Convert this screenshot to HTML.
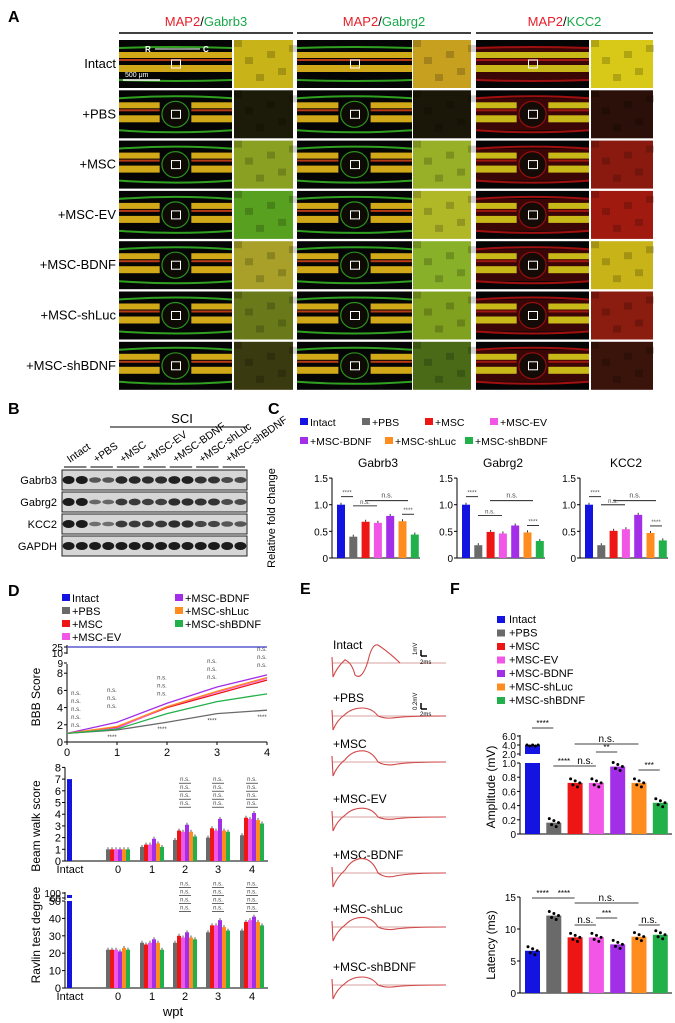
<!DOCTYPE html>
<html><head><meta charset="utf-8">
<style>
html,body{margin:0;padding:0;background:#fff;}
svg{display:block;font-family:"Liberation Sans",Arial,sans-serif;}
</style></head>
<body>
<svg id="fig" width="675" height="1023" viewBox="0 0 675 1023" xmlns="http://www.w3.org/2000/svg"></svg>
<script>
// ===== data arrays =====
const groups = ["Intact","+PBS","+MSC","+MSC-EV","+MSC-BDNF","+MSC-shLuc","+MSC-shBDNF"];
const groupColors = ["#1414e0","#6a6a6a","#ee1515","#f256e6","#a22ee8","#ff8c1e","#22b04a"];
// Panel C
const cGenes = ["Gabrb3","Gabrg2","KCC2"];
const cGabrb3 = [1.0,0.40,0.68,0.66,0.79,0.69,0.44];
const cGabrg2 = [1.0,0.24,0.49,0.46,0.61,0.48,0.32];
const cKCC2 = [1.0,0.24,0.51,0.54,0.81,0.47,0.33];
const cTicks = [0,0.5,1.0,1.5];
// Panel D BBB (weeks 0..4), series PBS..shBDNF
const weeks = [0,1,2,3,4];
const bbbPBS = [1,1.4,2.3,3.3,3.7];
const bbbMSC = [1,1.7,4.0,5.6,7.2];
const bbbEV = [1,1.6,4.1,5.8,7.4];
const bbbBDNF = [1,2.3,4.5,6.4,7.8];
const bbbShLuc = [1,1.8,4.1,5.9,7.5];
const bbbShBDNF = [1,1.5,3.3,4.7,5.6];
const bbbTicks = [0,2,4,6,8];
// Beam walk
const beamIntact = 7;
const beamPBS = [1,1.2,1.8,2.0,2.2];
const beamMSC = [1,1.4,2.6,2.8,3.7];
const beamEV = [1,1.4,2.5,2.6,3.6];
const beamBDNF = [1,1.9,3.1,3.6,4.1];
const beamShLuc = [1,1.5,2.5,2.6,3.5];
const beamShBDNF = [1,1.2,2.1,2.5,3.2];
const beamTicks = [0,1,2,3,4,5,6,7,8];
// Ravlin
const ravIntact = 52;
const ravPBS = [22,26,26,32,33];
const ravMSC = [22,25,30,36,38];
const ravEV = [22,26,29,36,39];
const ravBDNF = [21,28,32,39,41];
const ravShLuc = [23,26,29,35,38];
const ravShBDNF = [22,22,28,33,36];
const ravTicks = [0,10,20,30,40,50];
const xCats = ["Intact","0","1","2","3","4"];
// Panel F
const ampValues = [4.0,0.16,0.72,0.72,0.95,0.72,0.44];
const ampTicksLow = [0,0.2,0.4,0.6,0.8,1.0];
const ampTicksHigh = [2.0,4.0,6.0];
const latValues = [6.6,12.1,8.7,8.7,7.6,8.8,9.1];
const latTicks = [0,5,10,15];

// ===== helpers =====
const NS="http://www.w3.org/2000/svg";
const svg=document.getElementById('fig');
function add(parent, tag, attrs, name, text){
  const el=document.createElementNS(NS,tag);
  for(const k in attrs) el.setAttribute(k,attrs[k]);
  
  
  if(text!==undefined) el.textContent=text;
  parent.appendChild(el);
  return el;
}
function txt(x,y,s,size,opts,name){
  opts=opts||{};
  const a={x:x,y:y,'font-size':size,fill:opts.fill||'#000'};
  if(opts.anchor) a['text-anchor']=opts.anchor;
  if(opts.weight) a['font-weight']=opts.weight;
  if(opts.rot!==undefined) a.transform='rotate('+opts.rot+' '+x+' '+y+')';
  return add(svg,'text',a,name||'label',s);
}
function line(x1,y1,x2,y2,c,w,name){return add(svg,'line',{x1:x1,y1:y1,x2:x2,y2:y2,stroke:c||'#000','stroke-width':w||1},name||'axis-line');}
function rect(x,y,w,h,f,name){return add(svg,'rect',{x:x,y:y,width:w,height:h,fill:f},name||'rect');}

// ===== Panel A =====
txt(8,22,'A',16,{weight:'bold'},'panel-a-label');
const aCols=[{x:119,mw:113,zx:234,zw:59,g:'Gabrb3'},{x:297,mw:115,zx:413,zw:58,g:'Gabrg2'},{x:476,mw:113,zx:591,zw:62,g:'KCC2'}];
const zoomCols=[
 ['#c8b418','#1c1a08','#8aa022','#58a020','#a8a028','#6a7a1a','#3a3a10'],
 ['#c8a020','#1a1608','#98b028','#b0b828','#88b028','#80a020','#4a6a18'],
 ['#d8c818','#2a1008','#8a1a10','#a01a10','#c8b418','#8a1c10','#3a140a']];
aCols.forEach((c,ci)=>{
  const cx=(c.x+c.zx+c.zw)/2;
  const t=add(svg,'text',{x:cx,y:26,'font-size':13,'text-anchor':'middle'},'column-title-'+c.g.toLowerCase());
  add(t,'tspan',{fill:'#e61e2a'},'title-map2','MAP2');
  add(t,'tspan',{fill:'#000'},'title-slash','/');
  add(t,'tspan',{fill:'#18a84a'},'title-gene',c.g);
  line(c.x,33,c.zx+c.zw,33,'#000',1.5,'column-header-line');
  groups.forEach((g,ri)=>{
    const y=40+ri*50.3, h=48;
    rect(c.x,y,c.mw,h,'#050505','micrograph-main');
    const inj=ri>0;
    const outline=ci===2?'#a01010':'#30a020';
    const bandA=ci===2?'#c8b818':'#d0a818';
    const bandB=ci===2?'#a01810':'#b83a14';
    if(ci===2) rect(c.x,y+8,c.mw,32,'#3a0606','cord-body');
    add(svg,'path',{d:`M${c.x} ${y+8} Q${c.x+c.mw/2} ${y+(inj?4:6)} ${c.x+c.mw} ${y+8}`,stroke:outline,'stroke-width':2,fill:'none'},'cord-outline-top');
    add(svg,'path',{d:`M${c.x} ${y+40} Q${c.x+c.mw/2} ${y+(inj?44:42)} ${c.x+c.mw} ${y+40}`,stroke:outline,'stroke-width':2,fill:'none'},'cord-outline-bottom');
    [[12,6,bandA],[19,2,bandB],[25,7,bandA]].forEach(b=>{
      if(inj){
        rect(c.x,y+b[0],c.mw*0.36,b[1],b[2],'cord-band-left');
        rect(c.x+c.mw*0.64,y+b[0],c.mw*0.36,b[1],b[2],'cord-band-right');
      } else rect(c.x,y+b[0],c.mw,b[1],b[2],'cord-band');
    });
    if(inj){
      add(svg,'ellipse',{cx:c.x+c.mw/2,cy:y+24,rx:c.mw*0.12,ry:13,fill:'#100c06',stroke:outline,'stroke-width':1.2,opacity:0.9},'lesion-site');
    }
    add(svg,'rect',{x:c.x+c.mw*0.5-4,y:y+20,width:9,height:8,fill:'none',stroke:'#fff','stroke-width':1},'roi-box');
    rect(c.zx,y,c.zw,h,zoomCols[ci][ri],'micrograph-zoom');
    for(let k=0;k<6;k++){
      add(svg,'rect',{x:c.zx+(k*11)%c.zw,y:y+((k*17)%40),width:8,height:7,fill:'#000',opacity:0.18},'texture');
    }
    if(ci===0) txt(116,y+28,g,13,{anchor:'end'},'row-label');
  });
});
txt(145,52,'R',8,{fill:'#fff',weight:'bold'},'rostral-label');
line(155,49,200,49,'#fff',1,'rc-arrow');
txt(203,52,'C',8,{fill:'#fff',weight:'bold'},'caudal-label');
line(123,80,160,80,'#fff',1.5,'scale-bar');
txt(125,77,'500 μm',7,{fill:'#fff'},'scale-bar-label');

// ===== Panel B =====
txt(8,414,'B',16,{weight:'bold'},'panel-b-label');
txt(182,423,'SCI',13,{anchor:'middle'},'sci-label');
line(110,427,247,427,'#000',1,'sci-line');
const bx=62,bw=185,lane=bw/14;
groups.forEach((g,i)=>{
  const gx=bx+i*2*lane;
  line(gx+2,467,gx+2*lane-2,467,'#000',1,'lane-group-line');
  txt(gx+8,463,g,10.5,{rot:-35},'lane-label');
});
const blotRows=[['Gabrb3',470,[1,.5,.9,.85,.95,.8,.6]],['Gabrg2',492,[1,.35,.75,.7,.85,.8,.6]],['KCC2',514,[1,.3,.75,.75,.85,.65,.5]],['GAPDH',536,[1,1,1,1,1,1,1]]];
blotRows.forEach(r=>{
  rect(bx,r[1],bw,20,'#d6d6d6','blot-strip').setAttribute('stroke','#222');
  txt(57,r[1]+14,r[0],11,{anchor:'end'},'blot-row-label');
  for(let l=0;l<14;l++){
    const a=r[2][Math.floor(l/2)];
    add(svg,'ellipse',{cx:bx+lane*(l+0.5),cy:r[1]+10,rx:lane*0.45,ry:1.5+2.5*a,fill:'#111',opacity:0.35+0.6*a},'blot-band');
  }
});

// ===== Panel C =====
txt(268,414,'C',16,{weight:'bold'},'panel-c-label');
const legC=[[300,426,0],[362,426,1],[425,426,2],[490,426,3],[300,445,4],[385,445,5],[465,445,6]];
legC.forEach(l=>{
  rect(l[0],l[1]-8,8,7,groupColors[l[2]],'legend-swatch');
  txt(l[0]+10,l[1],groups[l[2]],10.5,{},'legend-entry');
});
const cData=[cGabrb3,cGabrg2,cKCC2];
const cAx=[332,457,580];
function yC(v){return 558-v*53.3;}
txt(275,518,'Relative fold change',11,{anchor:'middle',rot:-90},'y-axis-title');
cData.forEach((vals,ci)=>{
  const ax=cAx[ci];
  txt(ax+46,467,cGenes[ci],12,{anchor:'middle'},'chart-title');
  line(ax,yC(1.5),ax,558,'#000',1,'y-axis');
  line(ax,558,ax+88,558,'#000',1,'x-axis');
  cTicks.forEach(t=>{
    line(ax-3,yC(t),ax,yC(t),'#000',1,'y-tick');
    txt(ax-4,yC(t)+4,t===0?'0':t.toFixed(1),10,{anchor:'end'},'y-tick-label');
  });
  vals.forEach((v,i)=>{
    const x=ax+5+i*12.3;
    rect(x,yC(v),8,558-yC(v),groupColors[i],'bar-'+cGenes[ci].toLowerCase()+'-'+i);
    line(x+4,yC(v)-2,x+4,yC(v),'#333',1,'error-bar');
  });
  const x0=ax+9, top=yC(vals[0])-8;
  line(x0,top,x0+12,top,'#000',.8,'sig-bracket');
  txt(x0+6,top-2,'****',6,{anchor:'middle',fill:'#555'},'sig-label');
  const ns=yC(1.0)-4;
  line(ax+33,ns,ax+76,ns,'#000',.8,'sig-bracket');
  txt(ax+55,ns-3,'n.s.',7,{anchor:'middle',fill:'#444'},'sig-label');
  const b=yC(Math.max(vals[2],vals[4]))-10;
  line(ax+21,b,ax+45,b,'#000',.8,'sig-bracket');
  txt(ax+33,b-2,'n.s.',6,{anchor:'middle',fill:'#444'},'sig-label');
  const s=yC(vals[5])-7;
  line(ax+70,s,ax+82,s,'#000',.8,'sig-bracket');
  txt(ax+76,s-2,'****',6,{anchor:'middle',fill:'#555'},'sig-label');
});

// ===== Panel D =====
txt(8,596,'D',16,{weight:'bold'},'panel-d-label');
const legD=[[62,602,0],[62,615,1],[62,628,2],[62,641,3],[175,602,4],[175,615,5],[175,628,6]];
legD.forEach(l=>{
  rect(l[0],l[1]-8,8,7,groupColors[l[2]],'legend-swatch');
  txt(l[0]+10,l[1],groups[l[2]],11,{},'legend-entry');
});
// BBB
function xB(w){return 67+w*50;}
function yB(v){return 742-v*8.6;}
txt(40,697,'BBB Score',12,{anchor:'middle',rot:-90},'y-axis-title');
line(67,645,67,654,'#000',1,'y-axis-upper');
line(67,664,67,742,'#000',1,'y-axis');
line(67,742,xB(4),742,'#000',1,'x-axis');
[['25',647],['10',653],['9',663]].forEach(t=>{line(64,t[1],67,t[1]);txt(63,t[1]+4,t[0],10,{anchor:'end'},'y-tick-label');});
bbbTicks.forEach(t=>{line(64,yB(t),67,yB(t),'#000',1,'y-tick');txt(63,yB(t)+4,String(t),11,{anchor:'end'},'y-tick-label');});
weeks.forEach(w=>{line(xB(w),742,xB(w),745,'#000',1,'x-tick');txt(xB(w),756,String(w),11,{anchor:'middle'},'x-tick-label');});
line(67,647,xB(4),647,'#5a5ad0',1.5,'line-intact');
const bbbSeries=[bbbPBS,bbbMSC,bbbEV,bbbBDNF,bbbShLuc,bbbShBDNF];
bbbSeries.forEach((s,si)=>{
  const pts=s.map((v,i)=>xB(weeks[i])+','+yB(v)).join(' ');
  add(svg,'polyline',{points:pts,fill:'none',stroke:groupColors[si+1],'stroke-width':1.3},'line-'+groups[si+1].toLowerCase());
});
weeks.forEach(w=>{
  if(w===0) return;
  for(let k=0;k<3;k++) txt(xB(w)-5,yB(Math.max(bbbBDNF[w],3))-8-k*8,'n.s.',6,{anchor:'middle',fill:'#444'},'sig-label');
  txt(xB(w)-5,yB(bbbPBS[w])+9,'****',6,{anchor:'middle',fill:'#444'},'sig-label');
});
for(let k=0;k<5;k++) txt(76,727-k*8,'n.s.',6,{anchor:'middle',fill:'#444'},'sig-label');
// grouped bars helper
const gCenters=[118,152,185,218,252];
function grouped(series,yf,base,prefix){
  series.forEach((s,si)=>{
    s.forEach((v,gi)=>{
      const x=gCenters[gi]-12+si*4;
      rect(x,yf(v),4,base-yf(v),groupColors[si+1],prefix+'-'+gi+'-'+si);
      line(x+2,yf(v)-2,x+2,yf(v),'#333',.8,'error-bar');
    });
  });
}
// Beam walk
function yW(v){return 861-v*11.7;}
txt(40,826,'Beam walk score',12,{anchor:'middle',rot:-90},'y-axis-title');
line(65,yW(8),65,861,'#000',1,'y-axis');
line(65,861,268,861,'#000',1,'x-axis');
beamTicks.forEach(t=>{line(62,yW(t),65,yW(t),'#000',1,'y-tick');txt(61,yW(t)+4,String(t),11,{anchor:'end'},'y-tick-label');});
rect(67,yW(beamIntact),5,861-yW(beamIntact),groupColors[0],'bar-beam-intact');
grouped([beamPBS,beamMSC,beamEV,beamBDNF,beamShLuc,beamShBDNF],yW,861,'bar-beam');
[70].concat(gCenters).forEach((x,i)=>txt(x,873,xCats[i],11,{anchor:'middle'},'x-tick-label'));
gCenters.slice(2).forEach(x=>{for(let k=0;k<4;k++){line(x-6,yW(4.6)-k*8,x+6,yW(4.6)-k*8,'#000',.6,'sig-bracket');txt(x,yW(4.6)-2-k*8,'n.s.',6,{anchor:'middle',fill:'#444'},'sig-label');}});
// Ravlin
function yR(v){return 988-v*1.74;}
txt(40,935,'Ravlin test degree',12,{anchor:'middle',rot:-90},'y-axis-title');
line(65,892,65,900,'#000',1,'y-axis-upper');
line(65,yR(50),65,988,'#000',1,'y-axis');
line(65,988,268,988,'#000',1,'x-axis');
[['100',893],['60',898]].forEach(t=>{line(62,t[1],65,t[1]);txt(61,t[1]+4,t[0],10,{anchor:'end'},'y-tick-label');});
ravTicks.forEach(t=>{line(62,yR(t),65,yR(t),'#000',1,'y-tick');txt(61,yR(t)+4,String(t),11,{anchor:'end'},'y-tick-label');});
rect(67,yR(Math.min(ravIntact,50)),5,988-yR(Math.min(ravIntact,50)),groupColors[0],'bar-ravlin-intact');
rect(67,895,5,3,groupColors[0],'bar-ravlin-intact-top');
grouped([ravPBS,ravMSC,ravEV,ravBDNF,ravShLuc,ravShBDNF],yR,988,'bar-ravlin');
[70].concat(gCenters).forEach((x,i)=>txt(x,1000,xCats[i],11,{anchor:'middle'},'x-tick-label'));
gCenters.slice(2).forEach(x=>{for(let k=0;k<4;k++){line(x-6,yR(44)-k*8,x+6,yR(44)-k*8,'#000',.6,'sig-bracket');txt(x,yR(44)-2-k*8,'n.s.',6,{anchor:'middle',fill:'#444'},'sig-label');}});
txt(173,1016,'wpt',13,{anchor:'middle'},'x-axis-title');

// ===== Panel E =====
txt(300,594,'E',16,{weight:'bold'},'panel-e-label');
const traceY=[663,716,762,817,873,927,985];
const traceAmp=[1.0,0.5,0.7,0.55,0.9,0.6,0.5];
groups.forEach((g,i)=>{
  const by=traceY[i];
  txt(333,by-14,g,12,{},'trace-label');
  line(332,by,446,by,'#d8a0a0',1,'trace-baseline');
  const a=traceAmp[i]*16;
  let d=`M332 ${by-6} L333 ${by+14} Q337 ${by+4} ${345} ${by-a*0.2}`;
  if(i===0){ d+=` Q352 ${by} 355 ${by+12} Q362 ${by+18} 368 ${by-2} Q372 ${by-20} 378 ${by-18} Q390 ${by-10} 400 ${by}`; }
  else { d+=` Q352 ${by-a} 362 ${by-a} Q372 ${by-a} 378 ${by} Q386 ${by+a*0.4} 396 ${by+a*0.2} Q410 ${by} 446 ${by}`; }
  add(svg,'path',{d:d,fill:'none',stroke:'#d04848','stroke-width':1.1},'trace-'+g.toLowerCase());
});
line(421,650,421,656,'#000',1.5,'scale-bar-v');line(421,656,427,656,'#000',1.5,'scale-bar-h');
txt(417,655,'1mV',6,{rot:-90},'scale-label');txt(420,664,'2ms',6,{},'scale-label');
line(421,703,421,709,'#000',1.5,'scale-bar-v');line(421,709,427,709,'#000',1.5,'scale-bar-h');
txt(417,710,'0.2mV',6,{rot:-90},'scale-label');txt(420,716,'2ms',6,{},'scale-label');

// ===== Panel F =====
txt(450,594,'F',16,{weight:'bold'},'panel-f-label');
groups.forEach((g,i)=>{
  const y=623+i*13.5;
  rect(497,y-7,8,7,groupColors[i],'legend-swatch');
  txt(509,y,g,11,{},'legend-entry');
});
const fX=i=>525+i*21.3;
function yAl(v){return 834-v*71;}
function yAh(v){return 754-(v-2)*4.5;}
txt(495,787,'Amplitude (mV)',12,{anchor:'middle',rot:-90},'y-axis-title');
line(520,735,520,756,'#000',1,'y-axis-upper');
line(520,763,520,834,'#000',1,'y-axis');
line(520,834,672,834,'#000',1,'x-axis');
ampTicksHigh.forEach(t=>{line(517,yAh(t),520,yAh(t));txt(516,yAh(t)+4,t.toFixed(1),10,{anchor:'end'},'y-tick-label');});
ampTicksLow.forEach(t=>{line(517,yAl(t),520,yAl(t));txt(516,yAl(t)+4,t===0?'0':t.toFixed(1),10,{anchor:'end'},'y-tick-label');});
ampValues.forEach((v,i)=>{
  if(v>1){
    rect(fX(i),yAl(1),15,834-yAl(1),groupColors[i],'bar-amp-'+i);
    rect(fX(i),yAh(v),15,754-yAh(v),groupColors[i],'bar-amp-'+i+'-upper');
    for(let k=0;k<5;k++) add(svg,'circle',{cx:fX(i)+2+k*2.8,cy:yAh(v)+(k%2),r:1.5,fill:'#000'},'data-dot');
  } else {
    rect(fX(i),yAl(v),15,834-yAl(v),groupColors[i],'bar-amp-'+i);
    for(let k=0;k<5;k++) add(svg,'circle',{cx:fX(i)+3+k*2.3,cy:yAl(v)+((k*3)%5-2)*2,r:1.5,fill:'#000'},'data-dot');
  }
});
[[0,1,'****',728],[1,2,'****',766],[2,3,'n.s.',766],[3,4,'**',752],[2,5,'n.s.',744],[5,6,'***',770]].forEach(b=>{
  line(fX(b[0])+7,b[3],fX(b[1])+7,b[3],'#000',.8,'sig-bracket');
  txt((fX(b[0])+fX(b[1]))/2+7,b[3]-2,b[2],b[2]==='n.s.'?10:8,{anchor:'middle'},'sig-label');
});
function yL(v){return 993-v*6.4;}
txt(495,945,'Latency (ms)',12,{anchor:'middle',rot:-90},'y-axis-title');
line(520,yL(15),520,993,'#000',1,'y-axis');
line(520,993,672,993,'#000',1,'x-axis');
latTicks.forEach(t=>{line(517,yL(t),520,yL(t));txt(516,yL(t)+4,String(t),10,{anchor:'end'},'y-tick-label');});
latValues.forEach((v,i)=>{
  rect(fX(i),yL(v),15,993-yL(v),groupColors[i],'bar-lat-'+i);
  for(let k=0;k<5;k++) add(svg,'circle',{cx:fX(i)+3+k*2.3,cy:yL(v)+((k*3)%5-2)*2,r:1.5,fill:'#000'},'data-dot');
});
[[0,1,'****',898],[1,2,'****',898],[2,5,'n.s.',903],[2,3,'n.s.',925],[3,4,'***',918],[5,6,'n.s.',925]].forEach(b=>{
  line(fX(b[0])+7,b[3],fX(b[1])+7,b[3],'#000',.8,'sig-bracket');
  txt((fX(b[0])+fX(b[1]))/2+7,b[3]-2,b[2],b[2]==='n.s.'?10:8,{anchor:'middle'},'sig-label');
});
</script>
</body></html>
